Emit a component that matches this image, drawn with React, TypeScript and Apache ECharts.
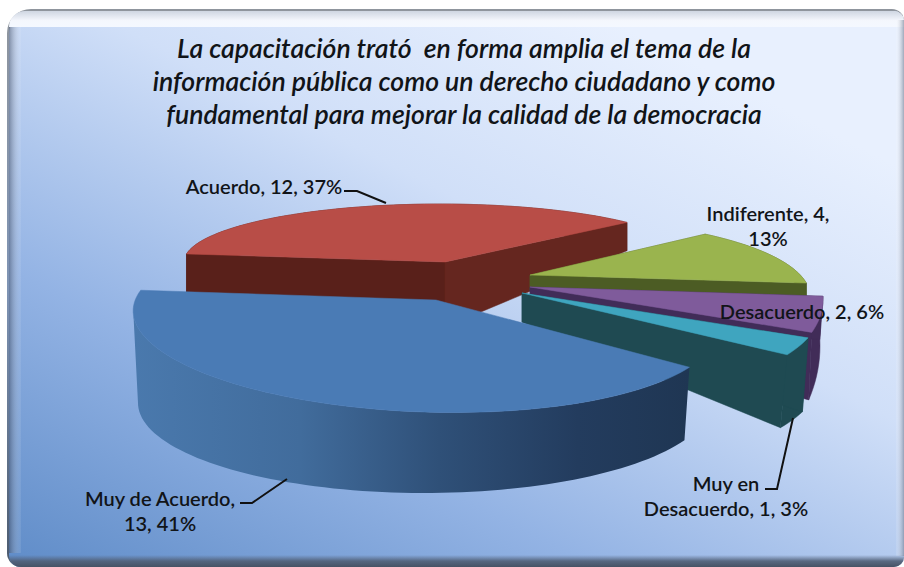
import React, { useEffect, useRef } from "react";
import * as echarts from "echarts";

const titleLines = [
  "La capacitación trató  en forma amplia el tema de la",
  "información pública como un derecho ciudadano y como",
  "fundamental para mejorar la calidad de la democracia",
];
const categories = ["Muy de Acuerdo", "Acuerdo", "Indiferente", "Desacuerdo", "Muy en\nDesacuerdo"];
const values = [13, 12, 4, 2, 1];
const percents = [41, 37, 13, 6, 3];
const nameSeparators = [",\n", ", ", ", ", ", ", ", "];
const valueSeparators = [", ", ", ", ",\n", ", ", ", "];
const drawOrder = [1, 2, 3, 4, 0];

const FONT = "Lato, Carlito, 'Open Sans', sans-serif";
const total = values.reduce((a, b) => a + b, 0);

type Ell = { cx: number; cy: number; rx: number; ry: number; rot?: number };
type Shape = {
  top: Ell; bottom: Ell; phi0: number; stretch: number; wallEnd?: number;
  apex: number[]; apexB: number[] | null;
  topFill: string; wallFill: any; faces: string[];
};
const blueWall = new echarts.graphic.LinearGradient(0, 0, 1, 0, [
  { offset: 0, color: "#4a79ad" },
  { offset: 0.3, color: "#416c9c" },
  { offset: 0.55, color: "#2f5078" },
  { offset: 0.8, color: "#233c5e" },
  { offset: 1, color: "#1f3653" },
]);
const shapes: Shape[] = [
  { top: { cx: 425, cy: 320, rx: 292, ry: 92, rot: 2 }, bottom: { cx: 424, cy: 403, rx: 286, ry: 90 }, phi0: 24.4, stretch: 1.149, wallEnd: 180, apex: [436, 300], apexB: null, topFill: "#4a7bb5", wallFill: blueWall, faces: [] },
  { top: { cx: 440, cy: 262, rx: 256, ry: 58 }, bottom: { cx: 440, cy: 302.6, rx: 256, ry: 76 }, phi0: 188, stretch: 0.955, apex: [445, 262], apexB: [445, 327], topFill: "#b84d47", wallFill: "#59201a", faces: ["#59201a", "#65261f"] },
  { top: { cx: 560, cy: 296, rx: 250, ry: 76 }, bottom: { cx: 560, cy: 309, rx: 250, ry: 76 }, phi0: 305.5, stretch: 0.993, apex: [530, 275], apexB: [530, 290], topFill: "#9ab44e", wallFill: "#4c5c24", faces: ["#4c5c24", "#4c5c24"] },
  { top: { cx: 570, cy: 300, rx: 253, ry: 110 }, bottom: { cx: 565, cy: 346, rx: 255, ry: 183 }, phi0: 358, stretch: 0.85, apex: [530, 287], apexB: [530, 322], topFill: "#7f5b9b", wallFill: "#412c58", faces: ["#412c58", "#412c58"] },
  { top: { cx: 576, cy: 305, rx: 247, ry: 96 }, bottom: { cx: 559, cy: 381, rx: 259, ry: 90 }, phi0: 20, stretch: 1, apex: [522, 293], apexB: [522, 322], topFill: "#3fa5bf", wallFill: "#1f4a52", faces: ["#1f4a52", "#1f4a52"] },
];
const labelPos = [[160, 510], [264, 186], [768, 225], [802, 311], [726, 495]];
const leaders = [
  [[240, 503], [252, 503], [287, 479]],
  [[344, 191], [357, 191], [386, 203]],
  [],
  [],
  [[765, 489], [777, 489], [793, 418]],
];

function ellipsePoint(e: Ell, deg: number) {
  const a = (deg * Math.PI) / 180;
  const r = ((e.rot || 0) * Math.PI) / 180;
  const x = e.rx * Math.cos(a);
  const y = e.ry * Math.sin(a);
  return [e.cx + x * Math.cos(r) - y * Math.sin(r), e.cy + x * Math.sin(r) + y * Math.cos(r)];
}

function renderSlice(_params: any, api: any) {
  const idx = api.value(0) as number;
  const value = api.value(1) as number;
  const s = shapes[idx];
  const sweep = (value / total) * 360 * s.stretch;
  const steps = Math.max(6, Math.round(sweep / 2));
  const topRim: number[][] = [];
  const botRim: number[][] = [];
  const wallTop: number[][] = [];
  const wallBot: number[][] = [];
  for (let i = 0; i <= steps; i++) {
    const phi = s.phi0 + (sweep * i) / steps;
    topRim.push(ellipsePoint(s.top, phi));
    botRim.push(ellipsePoint(s.bottom, phi));
    const wallPhi = s.wallEnd ? Math.min(phi, s.wallEnd) : phi;
    wallTop.push(ellipsePoint(s.top, wallPhi));
    wallBot.push(ellipsePoint(s.bottom, wallPhi));
  }
  const poly = (points: number[][], fill: any) => ({
    type: "polygon",
    shape: { points },
    style: { fill, stroke: typeof fill === "string" ? fill : "none", lineWidth: 0.5 },
  });
  const children: any[] = [];
  children.push(poly([...wallTop, ...wallBot.slice().reverse()], s.wallFill));
  if (s.apexB) {
    children.push(poly([s.apex, topRim[0], botRim[0], s.apexB], s.faces[0]));
    children.push(poly([s.apex, topRim[steps], botRim[steps], s.apexB], s.faces[1]));
  }
  children.push(poly([s.apex, ...topRim], s.topFill));
  return { type: "group", children };
}

function labelText(i: number) {
  return `${categories[i]}${nameSeparators[i]}${values[i]}${valueSeparators[i]}${percents[i]}%`;
}

export default function App() {
  const ref = useRef<HTMLDivElement>(null);
  useEffect(() => {
    const chart = echarts.init(ref.current!, undefined, { renderer: "svg" });
    const { LinearGradient } = echarts.graphic;
    const bg: any[] = [
      {
        type: "rect", z: 0,
        shape: { x: 7, y: 9, width: 897, height: 558, r: [24, 12, 12, 14] },
        style: {
          fill: new LinearGradient(0, 0, 0, 1, [
            { offset: 0, color: "#8f959d" },
            { offset: 0.5, color: "#7f94b4" },
            { offset: 1, color: "#4b5a6e" },
          ]),
        },
      },
      {
        type: "rect", z: 0,
        shape: { x: 9, y: 11, width: 895, height: 556, r: [22, 10, 10, 12] },
        style: {
          fill: new LinearGradient(0, 1, 0.75, 0.08, [
            { offset: 0, color: "#5f8cc8" },
            { offset: 0.35, color: "#93b3e4" },
            { offset: 0.7, color: "#d0dff8" },
            { offset: 1, color: "#e8f0fe" },
          ]),
        },
      },
      {
        type: "rect", z: 0,
        shape: { x: 9, y: 11, width: 895, height: 16, r: [22, 10, 0, 0] },
        style: {
          fill: new LinearGradient(0, 0, 0, 1, [
            { offset: 0, color: "#cfd6e2" },
            { offset: 0.6, color: "#f4f7fd" },
            { offset: 1, color: "#f4f8ff" },
          ]),
        },
      },
      {
        type: "rect", z: 0,
        shape: { x: 9, y: 27, width: 12, height: 526 },
        style: {
          fill: new LinearGradient(0, 0, 1, 0, [
            { offset: 0, color: "rgba(60,70,90,0.5)" },
            { offset: 1, color: "rgba(255,255,255,0.08)" },
          ]),
        },
      },
      {
        type: "rect", z: 0,
        shape: { x: 896, y: 20, width: 8, height: 536 },
        style: {
          fill: new LinearGradient(0, 0, 1, 0, [
            { offset: 0, color: "rgba(255,255,255,0.1)" },
            { offset: 1, color: "rgba(120,130,150,0.65)" },
          ]),
        },
      },
      {
        type: "rect", z: 0,
        shape: { x: 9, y: 555, width: 895, height: 12, r: [0, 0, 10, 12] },
        style: {
          fill: new LinearGradient(0, 0, 0, 1, [
            { offset: 0, color: "rgba(85,100,125,0)" },
            { offset: 0.5, color: "rgba(80,95,118,0.9)" },
            { offset: 1, color: "rgba(70,82,100,1)" },
          ]),
        },
      },
    ];
    const labels: any[] = categories.map((_, i) => ({
      type: "text", z: 10,
      x: labelPos[i][0], y: labelPos[i][1],
      style: {
        text: labelText(i),
        textAlign: "center", textVerticalAlign: "middle",
        fontFamily: FONT, fontSize: 20, fontWeight: 600, lineHeight: 25, fill: "#111418",
      },
    }));
    const lines: any[] = leaders.filter((l) => l.length).map((points) => ({
      type: "polyline", z: 10,
      shape: { points },
      style: { stroke: "#111", lineWidth: 2, fill: "none" },
    }));
    chart.setOption({
      animation: false,
      title: {
        text: titleLines.join("\n"),
        left: 459, top: 26, textAlign: "center",
        textStyle: { fontFamily: FONT, fontSize: 26.6, fontStyle: "italic", fontWeight: 600, lineHeight: 33, color: "#111418" },
      },
      graphic: { elements: [...bg, ...labels, ...lines] },
      series: [{
        type: "custom",
        coordinateSystem: "none",
        z: 2,
        silent: true,
        encode: { tooltip: 1 },
        data: drawOrder.map((i) => [i, values[i]]),
        renderItem: renderSlice,
      }],
    });
    return () => chart.dispose();
  }, []);
  return <div ref={ref} style={{ position: "absolute", left: 0, top: 0, width: 904, height: 567 }} />;
}
